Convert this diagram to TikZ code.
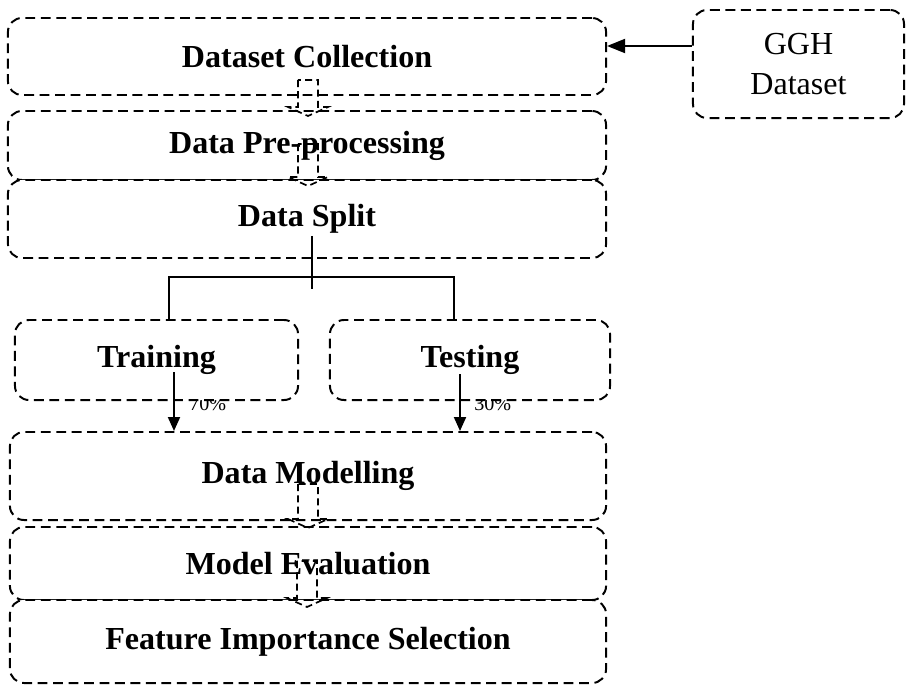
\documentclass[tikz,border=0pt]{standalone}
\usepackage{fontspec}
\setmainfont{Liberation Serif}
\usetikzlibrary{arrows.meta, positioning, calc}

\begin{document}
\begin{tikzpicture}[x=0.025cm, y=-0.025cm,
  % dashed boxes for each stage of the pipeline
  stage/.style={draw, line width=1.4pt, dash pattern=on 7pt off 4pt,
    rounded corners=10pt, fill=white, inner sep=0pt, align=center,
    minimum width=14.95cm, font=\fontsize{22.8}{27}\selectfont\bfseries},
  src/.style={stage, minimum width=5.275cm, minimum height=2.7cm,
    font=\fontsize{22.8}{28.5}\selectfont},
  branch/.style={stage, minimum width=7cm, minimum height=2cm},
  pct/.style={font=\fontsize{14.3}{17}\selectfont, inner sep=0pt, anchor=north west},
  link/.style={line width=1pt},
  arr/.style={-{Triangle[length=0.35cm,width=0.3cm]}, line width=1.4pt},
  bigarr/.style={-{Triangle[length=0.45cm,width=0.35cm]}, line width=1.4pt},
  % hollow dashed block arrow between two stacked stages
  pics/pipe/.style={code={
    \draw[line width=1.2pt, dash pattern=on 5pt off 3pt]
      (-10,0) -- (-10,#1) -- (-20,#1) -- (0,#1+9) -- (20,#1) -- (10,#1) -- (10,0) -- cycle;}}]

  \useasboundingbox (0,0) rectangle (906,684);

  % split ratios (partly under the boxes)
  \node[pct] (p70) at (189,397) {70\%};
  \node[pct] (p30) at (474,397) {30\%};

  \node[stage, minimum height=1.925cm] (coll) at (307,56.5) {Dataset Collection};
  \node[src] (ggh) at (798.5,64) {GGH\\Dataset};
  \node[stage, minimum height=1.725cm] (prep) at (307,145.5) {Data Pre-processing};
  \node[stage, minimum height=1.95cm] (split) at (307,219) {Data Split};
  \node[branch, minimum width=7.075cm] (train) at (156.5,360) {Training};
  \node[branch] (test) at (470,360) {Testing};
  \node[stage, minimum width=14.9cm, minimum height=2.2cm] (model) at (308,476) {Data Modelling};
  \node[stage, minimum width=14.9cm, minimum height=1.825cm] (eval) at (308,563.5) {Model Evaluation};
  \node[stage, minimum width=14.9cm, minimum height=2.075cm] (feat) at (308,641.5) {Feature Importance Selection};

  % block arrows down the column
  \pic at ($(coll.south)+(1,-16)$) {pipe=27};
  \pic at ($(prep.south)+(1,-37)$) {pipe=33};
  \pic at ($(model.south)+(0,-37)$) {pipe=35};
  \pic at ($(eval.south)+(-1,-40)$) {pipe=37};

  % source feeding the collection step
  \coordinate (gghout) at ($(ggh.west)+(0,-18)$);
  \draw[bigarr] (gghout) -- (gghout -| coll.east);

  % fork into training / testing
  \coordinate (fork) at ($(split.south)+(5,18)$);
  \draw[link] ($(split.south)+(5,-23)$) -- ($(split.south)+(5,30)$);
  \draw[link] ($(train.north)+(12.5,0)$) |- (fork) -| ($(test.north)+(-16,0)$);

  \coordinate (trainout) at ($(train.center)+(17.5,12)$);
  \coordinate (testout) at ($(test.center)+(-10,14)$);
  \draw[arr] (trainout) -- (trainout |- model.north);
  \draw[arr] (testout) -- (testout |- model.north);

\end{tikzpicture}
\end{document}
